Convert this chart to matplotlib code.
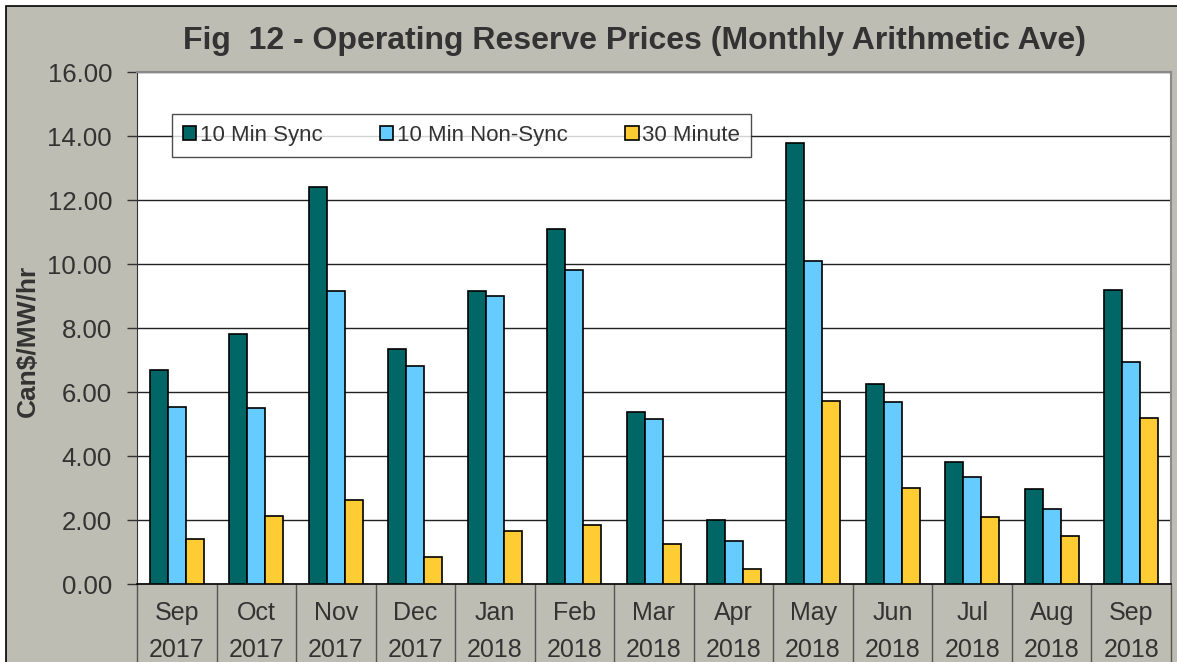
import numpy as np
import matplotlib
matplotlib.use("Agg")
import matplotlib.pyplot as plt
from matplotlib.patches import Rectangle

months = ["Sep", "Oct", "Nov", "Dec", "Jan", "Feb", "Mar", "Apr", "May", "Jun", "Jul", "Aug", "Sep"]
years = ["2017"] * 4 + ["2018"] * 9
sync_10 = [6.69, 7.81, 12.41, 7.34, 9.16, 11.09, 5.38, 2.00, 13.78, 6.25, 3.81, 2.97, 9.19]
nonsync_10 = [5.53, 5.50, 9.16, 6.81, 9.00, 9.81, 5.16, 1.34, 10.09, 5.69, 3.34, 2.34, 6.94]
min_30 = [1.41, 2.13, 2.63, 0.84, 1.66, 1.84, 1.25, 0.47, 5.72, 3.00, 2.09, 1.50, 5.19]

plt.rcParams['font.family'] = ['Liberation Sans', 'DejaVu Sans']
txt = '#333333'
grey = '#bdbdb3'

fig = plt.figure(figsize=(11.77, 6.62), dpi=100)
fig.patch.set_facecolor('white')
# outer grey chart area with black border (cut off at right/bottom)
fig.patches.append(Rectangle((6 / 1177, -0.05), 1.1, 1 - 6 / 662 + 0.05, transform=fig.transFigure,
                             facecolor=grey, edgecolor='black', linewidth=1.2, zorder=-1))

ax = fig.add_axes([137 / 1177, 1 - 584 / 662, 1034 / 1177, 512 / 662])
ax.set_facecolor('white')

x = np.arange(len(months))
w = 0.226
ax.bar(x - w, sync_10, w, color='#006666', edgecolor='black', linewidth=1.2, label='10 Min Sync', zorder=3)
ax.bar(x, nonsync_10, w, color='#66ccff', edgecolor='black', linewidth=1.2, label='10 Min Non-Sync', zorder=3)
ax.bar(x + w, min_30, w, color='#ffcc33', edgecolor='black', linewidth=1.2, label='30 Minute', zorder=3)

ax.set_xlim(-0.5, len(months) - 0.5)
ax.set_ylim(0, 16)
ax.set_yticks(np.arange(0, 16.01, 2))
ax.set_yticklabels([f"{v:.2f}" for v in np.arange(0, 16.01, 2)], fontsize=18.5, color=txt)
ax.yaxis.grid(True, color='#222222', linewidth=1.0, zorder=0)
ax.tick_params(axis='y', direction='out', length=7, width=1, color='#333333', pad=11)

# category boundaries as long major ticks, labels on minor ticks
ax.set_xticks(np.arange(-0.5, len(months), 1))
ax.set_xticklabels([])
ax.tick_params(axis='x', which='major', direction='out', length=80, width=1, color='#555555')
ax.set_xticks(x, minor=True)
ax.set_xticklabels([f"{m}\n{y}" for m, y in zip(months, years)], minor=True,
                   fontsize=18, color=txt, linespacing=1.72)
ax.tick_params(axis='x', which='minor', length=0, pad=12)

for s in ['top', 'right']:
    ax.spines[s].set_color('#8a8a8a')
    ax.spines[s].set_linewidth(1.5)
ax.spines['left'].set_color('#333333')
ax.spines['bottom'].set_color('black')
ax.spines['bottom'].set_linewidth(1.2)

ax.set_ylabel("Can\\$/MW/hr", fontsize=19, fontweight='bold', color=txt, va='center')
ax.yaxis.set_label_coords(-0.106, 0.475)

fig.text(0.5395, 1 - 41 / 662, "Fig  12 - Operating Reserve Prices (Monthly Arithmetic Ave)",
         ha='center', va='center', fontsize=23, fontweight='bold', color=txt)

leg = ax.legend(loc='lower left', bbox_to_anchor=(0.0338, 0.834, 0.56, 0.086), mode='expand',
                ncol=3, frameon=True, fancybox=False, fontsize=16, handlelength=0.6,
                handleheight=0.6, handletextpad=0.15, borderaxespad=0, labelcolor=txt,
                borderpad=0.5, columnspacing=1.2)
leg.get_frame().set_edgecolor('#222222')
leg.get_frame().set_linewidth(1.0)
leg.set_zorder(5)

fig.savefig("out.png", dpi=100, facecolor=fig.get_facecolor())
